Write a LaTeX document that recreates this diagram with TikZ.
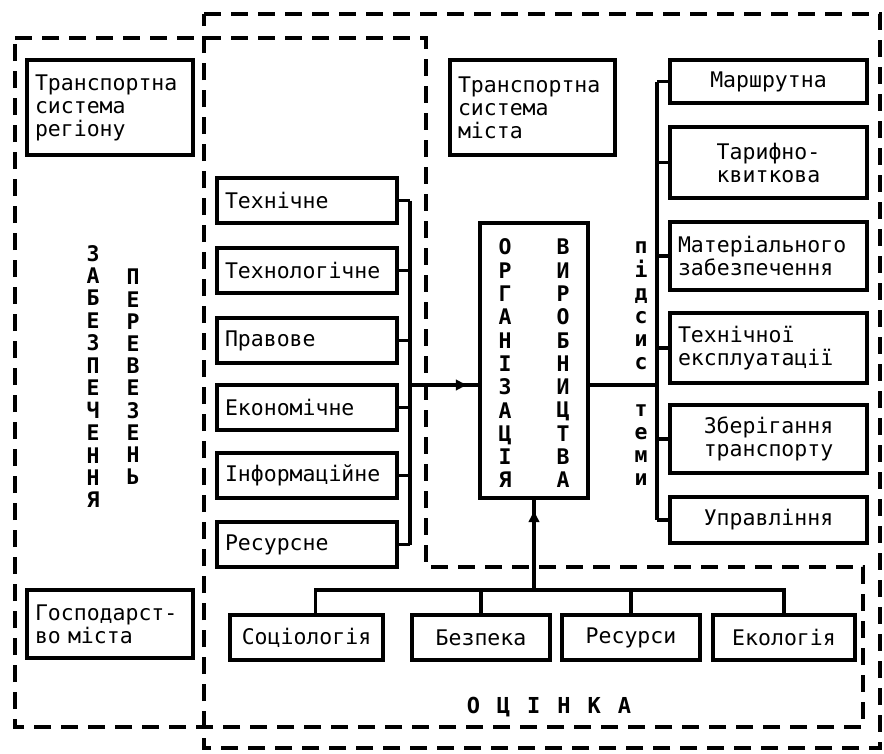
\documentclass[tikz,border=0pt]{standalone}
\usepackage{fontspec}
\newfontfamily\pf{DejaVu Sans Mono}
\usetikzlibrary{arrows.meta,decorations.markings}

\tikzset{
  box/.style={draw, line width=3.2pt, anchor=north west, inner xsep=8pt,
    inner ysep=0pt, outer sep=0pt, font=\pf\fontsize{21.5}{23}\selectfont},
  lcol/.style={box, text width=164pt, minimum height=45pt, align=left},
  rcol/.style={box, text width=181pt},
  bcol/.style={box, minimum height=45pt},
  vlet/.style={align=center, inner sep=0pt, font=\pf\bfseries\fontsize{21.5}{#1}\selectfont},
  conn/.style={line width=3.2pt},
  frame/.style={line width=3.2pt, dash pattern=on 17pt off 10pt},
  arrowmid/.style={postaction={decorate}, decoration={markings,
    mark=at position #1 with {\arrow{Latex[length=13pt,width=12pt]}}}}
}

\begin{document}
\begin{tikzpicture}[x=1pt,y=-1pt]
\useasboundingbox (0,0) rectangle (884,753);
\fill[white] (0,0) rectangle (884,753);

% dashed outlines: region level and city level
\draw[frame] (15,38) -- (426,38) -- (426,567) -- (863,567) -- (863,727) -- (15,727) -- cycle;
\draw[frame] (204,14) -- (880,14) -- (880,748) -- (204,748) -- cycle;

% systems
\node[box, text width=150pt, minimum height=95pt, align=left] (reg) at (27,60) {Транспортна\\система\\регіону};
\node[box, text width=149pt, minimum height=95pt, align=left] (city) at (450,60) {Транспортна\\система\\міста};
\node[box, text width=150pt, minimum height=68pt, align=left] (gosp) at (27,590) {Господарст-\\во міста};

% kinds of support
\node[lcol] (tech)  at (217,178) {Технічне};
\node[lcol] (techn) at (217,248) {Технологічне};
\node[lcol] (prav)  at (217,318) {Правове};
\node[lcol] (econ)  at (217,385) {Економічне};
\node[lcol] (inf)   at (217,453) {Інформаційне};
\node[lcol] (res)   at (217,522) {Ресурсне};

% organisation of production
\node[box, minimum width=108pt, minimum height=275pt] (org) at (480,223) {};
\node[vlet=23.3] (orgA) at (505,363.5) {О\\Р\\Г\\А\\Н\\І\\З\\А\\Ц\\І\\Я};
\node[vlet=23.3] (orgB) at (563,363.5) {В\\И\\Р\\О\\Б\\Н\\И\\Ц\\Т\\В\\А};

% subsystems
\node[rcol, minimum height=43pt, align=center] (marsh) at (670,60)  {Маршрутна};
\node[rcol, minimum height=71pt, align=center] (tarif) at (670,127) {Тарифно-\\квиткова};
\node[rcol, minimum height=68pt, align=left]   (mat)   at (670,222) {Матеріального\\забезпечення};
\node[rcol, minimum height=70pt, align=left]   (texp)  at (670,313) {Технічної\\експлуатації};
\node[rcol, minimum height=68pt, align=center] (zber)  at (670,405) {Зберігання\\транспорту};
\node[rcol, minimum height=46pt, align=center] (upr)   at (670,497) {Управління};
\node[vlet=23.2] (pids) at (641,364) {п\\і\\д\\с\\и\\с\\\phantom{т}\\т\\е\\м\\и};

% evaluation criteria
\node[bcol, minimum width=153pt] (soc)  at (230,615) {Соціологія};
\node[bcol, minimum width=138pt] (bez)  at (412,615) {Безпека};
\node[bcol, minimum width=138pt] (resu) at (562,615) {Ресурси};
\node[bcol, minimum width=142pt] (eco)  at (713,615) {Екологія};

% side captions
\node[vlet=22.45] (zab) at (93,376.5) {З\\А\\Б\\Е\\З\\П\\Е\\Ч\\Е\\Н\\Н\\Я};
\node[vlet=22.2] (per) at (133,377) {П\\Е\\Р\\Е\\В\\Е\\З\\Е\\Н\\Ь};
\node[font=\pf\bfseries\fontsize{22}{24}\selectfont, inner sep=0pt] (ocin) at (549,707)
  {О\hspace{17pt}Ц\hspace{17pt}І\hspace{17pt}Н\hspace{17pt}К\hspace{17pt}А};

% junction points of the buses
\coordinate (lb) at (410,385);
\coordinate (rb) at (657,385);
\coordinate (bby) at (0,590);
\coordinate (bb) at (org.south |- bby);

% support bus into organisation
\foreach \n in {tech,techn,prav,econ,inf,res}
  \draw[conn] (\n.east) -- (\n.east -| lb);
\draw[conn] (tech.east -| lb) -- (res.east -| lb);
\draw[conn, arrowmid=0.84] (lb) -- (lb -| org.west);

% organisation to subsystems
\draw[conn] (rb -| org.east) -- (rb);
\draw[conn] (marsh.west -| rb) -- (upr.west -| rb);
\foreach \n in {marsh,tarif,mat,texp,zber,upr}
  \draw[conn] (\n.west) -- (\n.west -| rb);

% evaluation bus into organisation
\draw[conn] ([xshift=9pt]soc.north) |- (bb) -| (eco.north);
\draw[conn] (bez.north) -- (bez.north |- bb);
\draw[conn] (resu.north) -- (resu.north |- bb);
\draw[conn, arrowmid=0.88] (bb) -- (org.south);
\end{tikzpicture}
\end{document}
